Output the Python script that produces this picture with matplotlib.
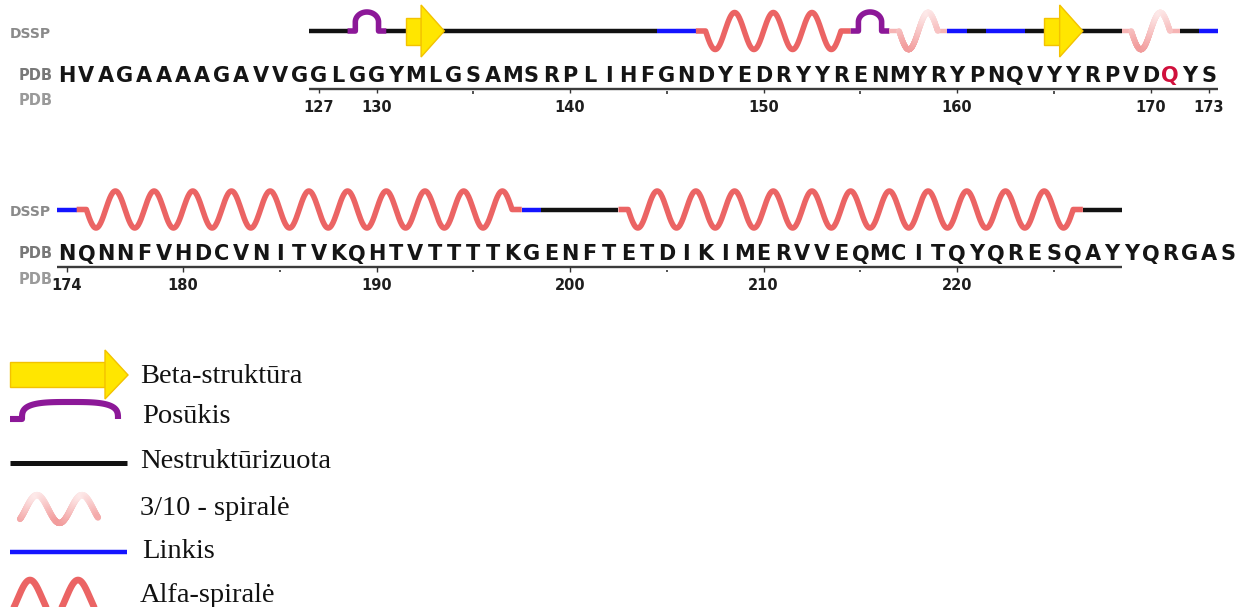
import numpy as np
import matplotlib
matplotlib.use("Agg")
import matplotlib.pyplot as plt
from matplotlib.collections import LineCollection
from matplotlib.patches import Polygon, Rectangle
from matplotlib.colors import to_rgb

# ---------------- data ----------------
top_sequence = "HVAGAAAAGAVVGGLGGYMLGSAMSRPLIHFGNDYEDRYYRENMYRYPNQVYYRPVDQYS"
top_first_residue = 114
bottom_sequence = "NQNNFVHDCVNITVKQHTVTTTTKGENFTETDIKIMERVVEQMCITQYQRESQAYYQRGAS"
bottom_first_residue = 174
highlight_residues = [171]

top_seg_start = [126.5, 128.5, 130.5, 131.5, 133.5, 144.5, 146.5, 154.5, 156.5,
                 159.5, 160.5, 161.5, 163.5, 164.5, 166.5, 168.5, 171.5, 172.5]
top_seg_end = [128.5, 130.5, 131.5, 133.5, 144.5, 146.5, 154.5, 156.5, 159.5,
               160.5, 161.5, 163.5, 164.5, 166.5, 168.5, 171.5, 172.5, 173.5]
top_seg_type = ["coil", "turn", "coil", "strand", "coil", "bend", "helix", "turn",
                "helix310", "bend", "coil", "bend", "coil", "strand", "coil",
                "helix310", "coil", "bend"]

bottom_seg_start = [173.5, 174.5, 197.5, 198.5, 202.5, 226.5]
bottom_seg_end = [174.5, 197.5, 198.5, 202.5, 226.5, 228.5]
bottom_seg_type = ["bend", "helix", "bend", "coil", "helix", "coil"]

top_ruler = (127, 173)
top_major_ticks = [127, 130, 140, 150, 160, 170, 173]
top_minor_ticks = [135, 145, 155, 165]
bottom_ruler = (174, 228)
bottom_major_ticks = [174, 180, 190, 200, 210, 220]
bottom_minor_ticks = [185, 195, 205, 215, 225]

legend_labels = ["Beta-struktūra", "Posūkis", "Nestruktūrizuota",
                 "3/10 - spiralė", "Linkis", "Alfa-spiralė"]

# ---------------- style ----------------
W, H, DPI = 1238, 607, 100
STEP = 19.35      # pixels per residue
LEFT_PX = 67      # pixel centre of first letter
ROW_SHIFT = 178.5
Y_LINE, Y_SEQ, Y_RULER, Y_NUM = 31, 82, 88.5, 112
AMP = 18.5

C_COIL = "#121212"
C_BEND = "#1414ff"
C_TURN = "#8c1898"
C_HELIX = "#eb6464"
C_310_TOP = "#fde9e9"
C_310_BOT = "#f29c9c"
C_310_MID = "#f6b4b4"
C_STRAND = "#ffe600"
C_STRAND_EDGE = "#f3c200"
LW_LINE = 3.2
LW_WAVE = 4.0

fig = plt.figure(figsize=(W / DPI, H / DPI), dpi=DPI)
fig.patch.set_facecolor("white")

axp = fig.add_axes([0, 0, 1, 1])
axp.set_xlim(0, W)
axp.set_ylim(H, 0)
axp.axis("off")


def row_axes(first_res, yshift):
    ax = fig.add_axes([0, 0, 1, 1])
    x0 = first_res - LEFT_PX / STEP
    ax.set_xlim(x0, x0 + W / STEP)
    ax.set_ylim(H - yshift, -yshift)
    ax.axis("off")
    ax.patch.set_visible(False)
    return ax


def draw_line(ax, s, e, color):
    ax.plot([s, e], [Y_LINE, Y_LINE], color=color, lw=LW_LINE,
            solid_capstyle="butt", zorder=2)


def helix_xy(s, e):
    ws, we = s + 0.5, e - 0.5
    x = np.linspace(ws, we, 600)
    y = Y_LINE + AMP * np.sin(np.pi * (x - ws))
    return np.concatenate([[s], x, [e]]), np.concatenate([[Y_LINE], y, [Y_LINE]])


def draw_helix(ax, s, e):
    x, y = helix_xy(s, e)
    ax.plot(x, y, color=C_HELIX, lw=LW_WAVE, solid_joinstyle="round",
            solid_capstyle="butt", zorder=3)


def draw_310(ax, s, e):
    ws, we = s + 0.5, e - 0.5
    draw_conn = [(s, ws), (we, e)]
    for a, b in draw_conn:
        ax.plot([a, b], [Y_LINE, Y_LINE], color=C_310_MID, lw=LW_LINE,
                solid_capstyle="butt", zorder=3)
    x = np.linspace(ws, we, 300)
    y = Y_LINE + AMP * np.sin(np.pi * (x - ws))
    pts = np.column_stack([x, y]).reshape(-1, 1, 2)
    segs = np.concatenate([pts[:-1], pts[1:]], axis=1)
    t = ((y[:-1] + y[1:]) / 2 - (Y_LINE - AMP)) / (2 * AMP)
    ctop, cbot = np.array(to_rgb(C_310_TOP)), np.array(to_rgb(C_310_BOT))
    cols = ctop[None, :] * (1 - t[:, None]) + cbot[None, :] * t[:, None]
    ax.add_collection(LineCollection(segs, colors=cols, linewidths=LW_WAVE,
                                     capstyle="round", zorder=3))


def draw_turn(ax, s, e):
    c = (s + e) / 2
    hw = 0.6
    t = np.linspace(np.pi, 0, 80)
    xs = c + hw * np.cos(t)
    ys = (Y_LINE - 9) - 10 * np.sin(t)
    x = np.concatenate([[s, c - hw], xs, [c + hw, e]])
    y = np.concatenate([[Y_LINE, Y_LINE], ys, [Y_LINE, Y_LINE]])
    ax.plot(x, y, color=C_TURN, lw=LW_WAVE, solid_joinstyle="round",
            solid_capstyle="butt", zorder=3)


def draw_strand(ax, s, e):
    body = 0.8
    ax.add_patch(Rectangle((s, Y_LINE - 13.5), body, 27, facecolor=C_STRAND,
                           edgecolor=C_STRAND_EDGE, lw=1.0, zorder=4))
    ax.add_patch(Polygon([(s + body, Y_LINE - 26), (e, Y_LINE),
                          (s + body, Y_LINE + 26)], closed=True,
                         facecolor=C_STRAND, edgecolor=C_STRAND_EDGE, lw=1.0,
                         zorder=5))


def draw_row(ax, seq, first, starts, ends, types, ruler, majors, minors):
    for s, e, tp in zip(starts, ends, types):
        if tp == "coil":
            draw_line(ax, s, e, C_COIL)
        elif tp == "bend":
            draw_line(ax, s, e, C_BEND)
        elif tp == "helix":
            draw_helix(ax, s, e)
        elif tp == "helix310":
            draw_310(ax, s, e)
        elif tp == "turn":
            draw_turn(ax, s, e)
        elif tp == "strand":
            draw_line(ax, s, e, C_COIL)
            draw_strand(ax, s, e)
    for i, ch in enumerate(seq):
        res = first + i
        col = "#d0103c" if res in highlight_residues else "#151515"
        ax.text(res, Y_SEQ, ch, ha="center", va="baseline", fontsize=15,
                fontweight="bold", color=col, family="DejaVu Sans")
    ax.plot([ruler[0] - 0.5, ruler[1] + 0.5], [Y_RULER, Y_RULER],
            color="#3c3c3c", lw=1.7, solid_capstyle="butt")
    ax.vlines(majors, Y_RULER, Y_RULER + 4.5, color="#333333", lw=1.0)
    ax.vlines(minors, Y_RULER + 2.5, Y_RULER + 5, color="#333333", lw=1.2)
    for m in majors:
        ax.text(m, Y_NUM, str(m), ha="center", va="baseline", fontsize=10.5,
                fontweight="bold", color="#1e1e1e", family="DejaVu Sans")


ax_top = row_axes(top_first_residue, 0)
ax_bot = row_axes(bottom_first_residue, ROW_SHIFT)
draw_row(ax_top, top_sequence, top_first_residue, top_seg_start, top_seg_end,
         top_seg_type, top_ruler, top_major_ticks, top_minor_ticks)
draw_row(ax_bot, bottom_sequence, bottom_first_residue, bottom_seg_start,
         bottom_seg_end, bottom_seg_type, bottom_ruler, bottom_major_ticks,
         bottom_minor_ticks)

# row labels
for dy in (0, ROW_SHIFT):
    axp.text(10, 37.5 + dy, "DSSP", ha="left", va="baseline", fontsize=10,
             fontweight="bold", color="#8a8a8a")
    axp.text(53, 80 + dy, "PDB", ha="right", va="baseline", fontsize=10.5,
             fontweight="bold", color="#787878")
    axp.text(53, 105 + dy, "PDB", ha="right", va="baseline", fontsize=10.5,
             fontweight="bold", color="#9a9a9a")

# ---------------- legend ----------------
# beta arrow
axp.add_patch(Rectangle((10, 362), 95, 25, facecolor=C_STRAND,
                        edgecolor=C_STRAND_EDGE, lw=1.0, zorder=4))
axp.add_patch(Polygon([(105, 350), (128, 375), (105, 399)], closed=True,
                      facecolor=C_STRAND, edgecolor=C_STRAND_EDGE, lw=1.0,
                      zorder=5))
# turn arc
tt = np.linspace(np.pi, 0, 120)
cx, cy, rx, ry = 70, 419, 48, 17
ax_ = cx + rx * np.sign(np.cos(tt)) * np.abs(np.cos(tt)) ** 0.6
ay_ = cy - ry * np.abs(np.sin(tt)) ** 0.6
axp.plot(np.concatenate([[10], ax_]), np.concatenate([[cy], ay_]),
         color=C_TURN, lw=4.4, solid_capstyle="butt", solid_joinstyle="round")
# coil
axp.plot([10, 127], [463, 463], color=C_COIL, lw=3.6, solid_capstyle="butt")
# 3/10 helix
xl = np.linspace(20, 98, 300)
yl = 509 - 14 * np.cos(2 * np.pi * (xl - 37) / 45)
pts = np.column_stack([xl, yl]).reshape(-1, 1, 2)
segs = np.concatenate([pts[:-1], pts[1:]], axis=1)
tl = ((yl[:-1] + yl[1:]) / 2 - 495) / 28
ctop, cbot = np.array(to_rgb(C_310_TOP)), np.array(to_rgb(C_310_BOT))
cols = ctop[None, :] * (1 - tl[:, None]) + cbot[None, :] * tl[:, None]
axp.add_collection(LineCollection(segs, colors=cols, linewidths=4.4,
                                  capstyle="round"))
# bend
axp.plot([10, 127], [552, 552], color=C_BEND, lw=3.2, solid_capstyle="butt")
# alpha helix
xa = np.linspace(8, 102, 300)
ya = 598 - 18 * np.cos(2 * np.pi * (xa - 30) / 48)
axp.plot(xa, ya, color=C_HELIX, lw=4.8, solid_capstyle="butt")

legend_x = [140, 142, 140, 140, 142, 140]
legend_y = [383, 423, 468, 515, 558, 602]
for lx, ly, lab in zip(legend_x, legend_y, legend_labels):
    axp.text(lx, ly, lab, ha="left", va="baseline", fontsize=20.5,
             family="Liberation Serif", color="#111111")

fig.savefig("out.png", dpi=DPI, facecolor="white")
